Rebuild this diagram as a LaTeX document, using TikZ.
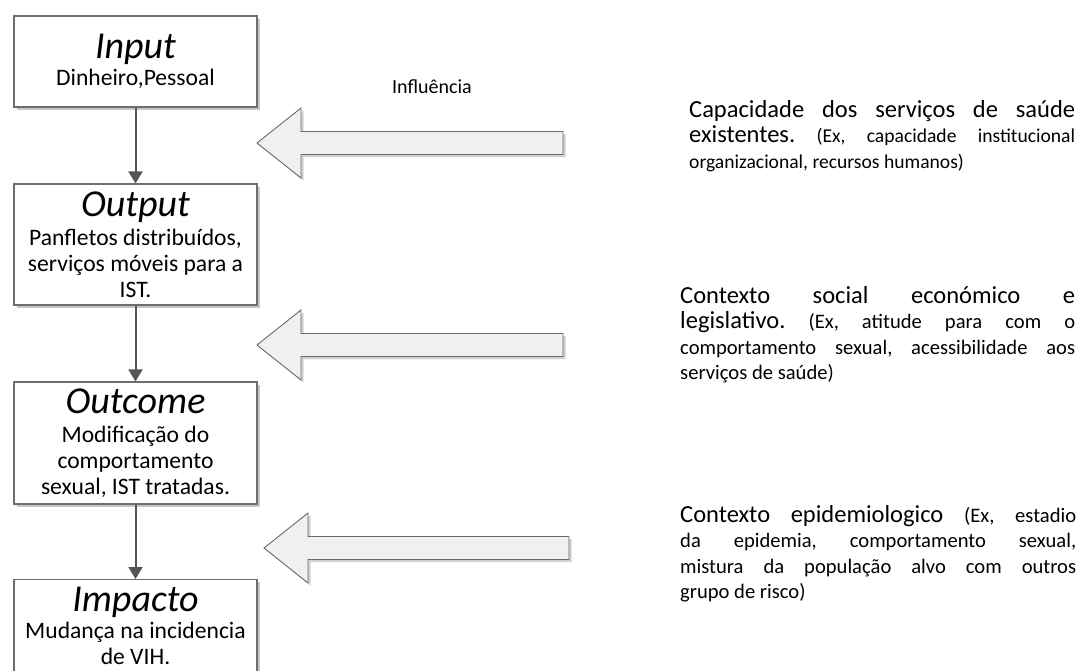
\documentclass[tikz,border=0pt]{standalone}
\usepackage{fontspec}
\setmainfont{Carlito}
\usetikzlibrary{arrows.meta,shadows}
\frenchspacing
\definecolor{boxline}{HTML}{6E6E6E}
\definecolor{linkcol}{HTML}{555555}
\definecolor{arrowfill}{HTML}{F0F0F0}
\definecolor{arrowline}{HTML}{6A6A6A}
\newcommand{\bigfont}{\fontsize{24.5}{25.5}\selectfont}
\newcommand{\smallfont}{\fontsize{20.6}{25.5}\selectfont}
\newcommand{\titlefont}{\fontsize{38}{38}\selectfont\itshape}
% a fully justified line of the given width: every word gap stretches evenly
\newcommand{\jline}[2]{\makebox[#1][s]{\spaceskip=0.25em plus 1fil\relax
  \xspaceskip=0.25em plus 1fil\relax #2}}
% wide hollow arrow pointing left: tip x, centre y, tail x
\newcommand{\influencearrow}[3]{%
  \draw[bigarrow] (#3,#2-11.5) -- (#1+44,#2-11.5) -- (#1+44,#2-35) -- (#1,#2)
    -- (#1+44,#2+35) -- (#1+44,#2+11.5) -- (#3,#2+11.5) -- cycle;}
\begin{document}
\begin{tikzpicture}[x=1pt,y=-1pt,
  stage/.style={draw=boxline, fill=white, line width=1.1pt, minimum width=243pt,
    inner sep=0pt, align=center, font=\fontsize{23.6}{26}\selectfont,
    drop shadow={shadow xshift=2.5pt, shadow yshift=-2.5pt, fill=black!22, opacity=1}},
  link/.style={draw=linkcol, line width=2pt, -{Triangle[length=12pt,width=14pt]}},
  bigarrow/.style={draw=arrowline, fill=arrowfill, line width=0.9pt, line join=miter,
    drop shadow={shadow xshift=2.5pt, shadow yshift=-2.5pt, fill=black!18, opacity=1}},
  context/.style={anchor=base west, inner sep=0pt, align=flush left, font=\bigfont}
]
\useasboundingbox (0,0) rectangle (1080,670);
\clip (0,0) rectangle (1080,670);

% chain of stages
\node[stage, minimum height=91pt] (input) at (135.5,61.5)
  {{\titlefont Input}\\[1pt]Dinheiro,Pessoal};
\node[stage, minimum height=121pt] (output) at (135.5,244.5)
  {{\titlefont Output}\\[3pt]Panfletos distribuídos,\\serviços móveis para a\\IST.};
\node[stage, minimum height=122pt] (outcome) at (135.5,443)
  {{\titlefont Outcome}\\[3pt]Modificação do\\comportamento\\sexual, IST tratadas.};
\node[stage, minimum height=92pt, anchor=north] (impact) at (135.5,579)
  {{\titlefont Impacto}\\[1pt]Mudança na incidencia\\de VIH.};

\draw[link] (input) -- (output);
\draw[link] (output) -- (outcome);
\draw[link] (outcome) -- (impact);

% influence arrows
\node[anchor=base, inner sep=0pt, font=\fontsize{20}{24}\selectfont] (influence) at (432,93) {Influência};
\influencearrow{257}{143}{563}
\influencearrow{257}{345}{563}
\influencearrow{264}{548}{569}

% contextual factors
\node[context, text width=386pt] (capacity) at (689,117) {%
  \jline{386pt}{Capacidade dos serviços de saúde}\\
  \jline{386pt}{existentes. {\fontsize{19.6}{25.5}\selectfont (Ex, capacidade institucional}}\\
  {\fontsize{19.6}{25.5}\selectfont organizacional, recursos humanos)}};
\node[context, text width=395pt] (social) at (680,303) {%
  \jline{395pt}{Contexto social económico e}\\
  \jline{395pt}{legislativo. {\smallfont (Ex, atitude para com o}}\\
  \jline{395pt}{\smallfont comportamento sexual, acessibilidade aos}\\
  {\smallfont serviços de saúde)}};
\node[context, text width=396pt] (epidem) at (680,522) {%
  \jline{396pt}{Contexto epidemiologico {\smallfont (Ex, estadio}}\\
  \jline{396pt}{\smallfont da epidemia, comportamento sexual,}\\
  \jline{396pt}{\smallfont mistura da população alvo com outros}\\
  {\smallfont grupo de risco)}};
\end{tikzpicture}
\end{document}
